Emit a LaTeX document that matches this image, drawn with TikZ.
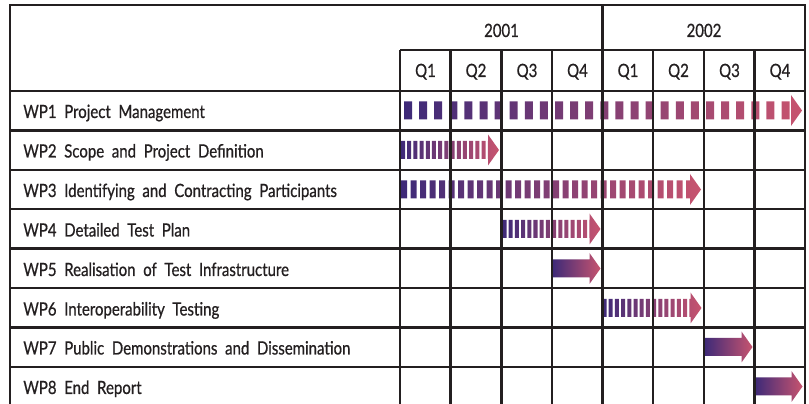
\documentclass[tikz,border=0pt]{standalone}
\usepackage{fontspec}
\setmainfont[FakeStretch=0.82,WordSpace=2.0,FakeBold=0.7]{Lato}
\usepackage{xcolor}
\usepackage{tikz}
\definecolor{WPPurple}{HTML}{3E2A78}
\definecolor{WPRose}{HTML}{C7546F}
\definecolor{WPLine}{HTML}{231F20}

\begin{document}
\begin{tikzpicture}[x=1cm,y=1cm,
  wpbar/.style={left color=WPPurple,right color=WPRose},
  wpgrid/.style={WPLine,line width=1.15pt},
  wptext/.style={text=WPLine,inner sep=0pt,font=\fontsize{10.4}{12}\selectfont}]
\path[use as bounding box] (0,0) rectangle (16.18,8.08);
% work package bars
\shade[wpbar] \foreach \x in {8.08,8.382,...,15.82} {(\x,5.69) rectangle ({min(\x+0.16,15.82)},6.05)}
  (15.82,5.56) -- (16.04,5.87) -- (15.82,6.18) -- cycle;
\shade[wpbar] \foreach \x in {8.02,8.144,...,9.76} {(\x,4.90) rectangle ({min(\x+0.08,9.76)},5.26)}
  (9.76,4.77) -- (9.98,5.08) -- (9.76,5.39) -- cycle;
\shade[wpbar] \foreach \x in {8.02,8.21,...,13.80} {(\x,4.11) rectangle ({min(\x+0.12,13.80)},4.47)}
  (13.80,3.98) -- (14.02,4.29) -- (13.80,4.60) -- cycle;
\shade[wpbar] \foreach \x in {10.05,10.174,...,11.79} {(\x,3.32) rectangle ({min(\x+0.08,11.79)},3.68)}
  (11.79,3.19) -- (12.01,3.50) -- (11.79,3.81) -- cycle;
\shade[wpbar] (11.05,2.53) -- (11.79,2.53) -- (11.79,2.40) -- (12.01,2.71) -- (11.79,3.02) -- (11.79,2.89) -- (11.05,2.89) -- cycle;
\shade[wpbar] \foreach \x in {12.05,12.174,...,13.81} {(\x,1.74) rectangle ({min(\x+0.08,13.81)},2.10)}
  (13.81,1.61) -- (14.03,1.92) -- (13.81,2.23) -- cycle;
\shade[wpbar] (14.09,0.96) -- (14.83,0.96) -- (14.83,0.83) -- (15.05,1.14) -- (14.83,1.45) -- (14.83,1.32) -- (14.09,1.32) -- cycle;
\shade[wpbar] (15.10,0.17) -- (15.83,0.17) -- (15.83,0.04) -- (16.05,0.35) -- (15.83,0.66) -- (15.83,0.53) -- (15.10,0.53) -- cycle;
% grid
\draw[wpgrid,line width=1.4pt] (0.20,0) -- (0.20,7.98) -- (16.10,7.98) -- (16.10,0);
\draw[wpgrid] (8.00,7.08) -- (16.10,7.08);
\draw[wpgrid] (12.05,7.98) -- (12.05,0);
\draw[wpgrid] (8.00,7.08) -- (8.00,0);
\draw[wpgrid] (9.01,7.08) -- (9.01,0);
\draw[wpgrid] (10.03,7.08) -- (10.03,0);
\draw[wpgrid] (11.04,7.08) -- (11.04,0);
\draw[wpgrid] (13.06,7.08) -- (13.06,0);
\draw[wpgrid] (14.08,7.08) -- (14.08,0);
\draw[wpgrid] (15.09,7.08) -- (15.09,0);
\draw[wpgrid] (0.20,6.26) -- (16.10,6.26);
\draw[wpgrid] (0.20,5.47) -- (16.10,5.47);
\draw[wpgrid] (0.20,4.68) -- (16.10,4.68);
\draw[wpgrid] (0.20,3.90) -- (16.10,3.90);
\draw[wpgrid] (0.20,3.11) -- (16.10,3.11);
\draw[wpgrid] (0.20,2.32) -- (16.10,2.32);
\draw[wpgrid] (0.20,1.53) -- (16.10,1.53);
\draw[wpgrid] (0.20,0.74) -- (16.10,0.74);
% headings
\node[wptext,anchor=base] (y2001) at (10.03,7.34) {2001};
\node[wptext,anchor=base] (y2002) at (14.08,7.34) {2002};
\node[wptext,anchor=base] (q1a) at (8.51,6.54) {Q1};
\node[wptext,anchor=base] (q2a) at (9.52,6.54) {Q2};
\node[wptext,anchor=base] (q3a) at (10.54,6.54) {Q3};
\node[wptext,anchor=base] (q4a) at (11.55,6.54) {Q4};
\node[wptext,anchor=base] (q1b) at (12.56,6.54) {Q1};
\node[wptext,anchor=base] (q2b) at (13.57,6.54) {Q2};
\node[wptext,anchor=base] (q3b) at (14.59,6.54) {Q3};
\node[wptext,anchor=base] (q4b) at (15.60,6.54) {Q4};
\node[wptext,anchor=base west] (wp1) at (0.46,5.72) {WP1 Project Management};
\node[wptext,anchor=base west] (wp2) at (0.46,4.93) {WP2 Scope and Project Definition};
\node[wptext,anchor=base west] (wp3) at (0.46,4.14) {WP3 Identifying and Contracting Participants};
\node[wptext,anchor=base west] (wp4) at (0.46,3.35) {WP4 Detailed Test Plan};
\node[wptext,anchor=base west] (wp5) at (0.46,2.56) {WP5 Realisation of Test Infrastructure};
\node[wptext,anchor=base west] (wp6) at (0.46,1.77) {WP6 Interoperability Testing};
\node[wptext,anchor=base west] (wp7) at (0.46,0.99) {WP7 Public Demonstrations and Dissemination};
\node[wptext,anchor=base west] (wp8) at (0.46,0.20) {WP8 End Report};
\end{tikzpicture}
\end{document}
